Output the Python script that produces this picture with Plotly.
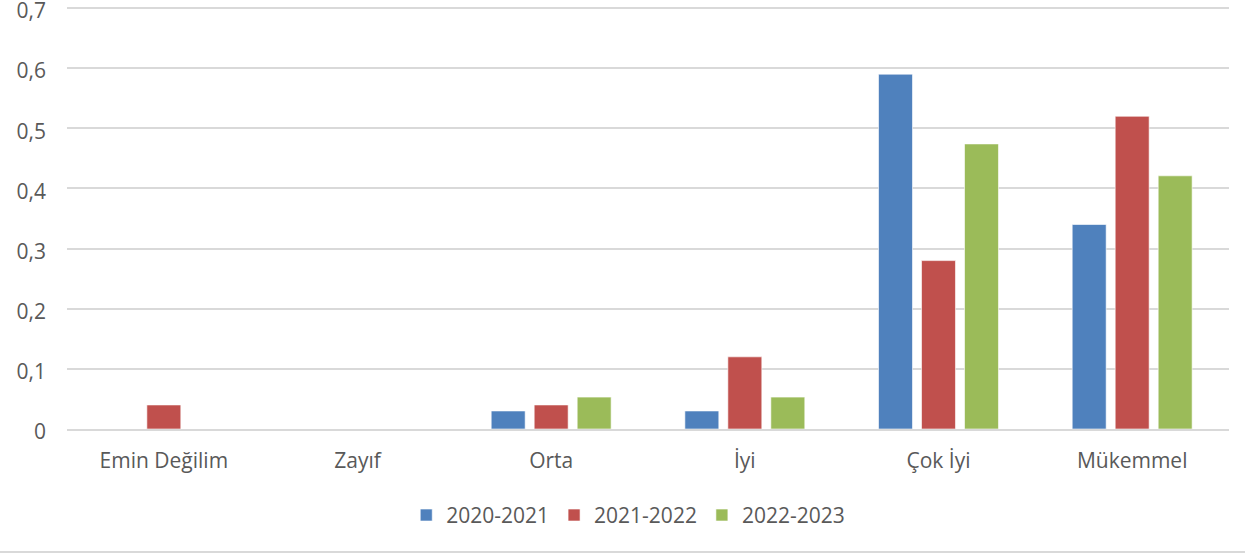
import plotly.graph_objects as go

categories = ["Emin Değilim", "Zayıf", "Orta", "İyi", "Çok İyi", "Mükemmel"]
series_names = ["2020-2021", "2021-2022", "2022-2023"]
values_2020_2021 = [0, 0, 0.03, 0.03, 0.59, 0.34]
values_2021_2022 = [0.04, 0, 0.04, 0.12, 0.28, 0.52]
values_2022_2023 = [0, 0, 0.053, 0.053, 0.474, 0.421]
y_ticks = [0, 0.1, 0.2, 0.3, 0.4, 0.5, 0.6, 0.7]
y_tick_labels = ["0", "0,1", "0,2", "0,3", "0,4", "0,5", "0,6", "0,7"]

colors = ["#4F81BD", "#C0504D", "#9BBB59"]
all_values = [values_2020_2021, values_2021_2022, values_2022_2023]

fig = go.Figure()
for name, vals, col in zip(series_names, all_values, colors):
    fig.add_trace(go.Bar(
        x=categories, y=vals, name=name,
        marker=dict(color=col, line=dict(color="rgba(255,255,255,0.6)", width=1)),
    ))

font_family = "'Open Sans', 'Noto Sans', sans-serif"
plot_h = 555 - 4 - 126
fig.update_layout(
    width=1245, height=555,
    margin=dict(l=67, r=16, t=4, b=126, autoexpand=False),
    paper_bgcolor="white", plot_bgcolor="white",
    barmode="group", bargap=0.334, bargroupgap=0.21,
    font=dict(family=font_family, size=21, color="#595959"),
    showlegend=True,
    legend=dict(
        orientation="h", x=0.483, xanchor="center", y=-0.155, yanchor="top",
        font=dict(size=21, color="#595959"), itemwidth=30,
        traceorder="normal",
    ),
    xaxis=dict(
        showgrid=False, showline=True, linecolor="#D9D9D9", linewidth=1.5,
        ticks="", tickfont=dict(size=21, color="#595959"), ticklabelstandoff=12,
        automargin=False,
    ),
    yaxis=dict(
        range=[0, 0.7 * plot_h / 421], tickvals=y_ticks, ticktext=y_tick_labels,
        showgrid=True, gridcolor="#D9D9D9", gridwidth=1.5,
        zeroline=False, showline=False, ticks="",
        tickfont=dict(size=21, color="#595959"), ticklabelstandoff=20,
        ticklabelshift=3, ticklabeloverflow="allow", automargin=False,
    ),
    shapes=[dict(type="line", xref="paper", yref="paper",
                 x0=-67/1162, x1=1 + 16/1162, y0=-123/plot_h, y1=-123/plot_h,
                 line=dict(color="#D9D9D9", width=2))],
)

fig.write_html("out.html")
